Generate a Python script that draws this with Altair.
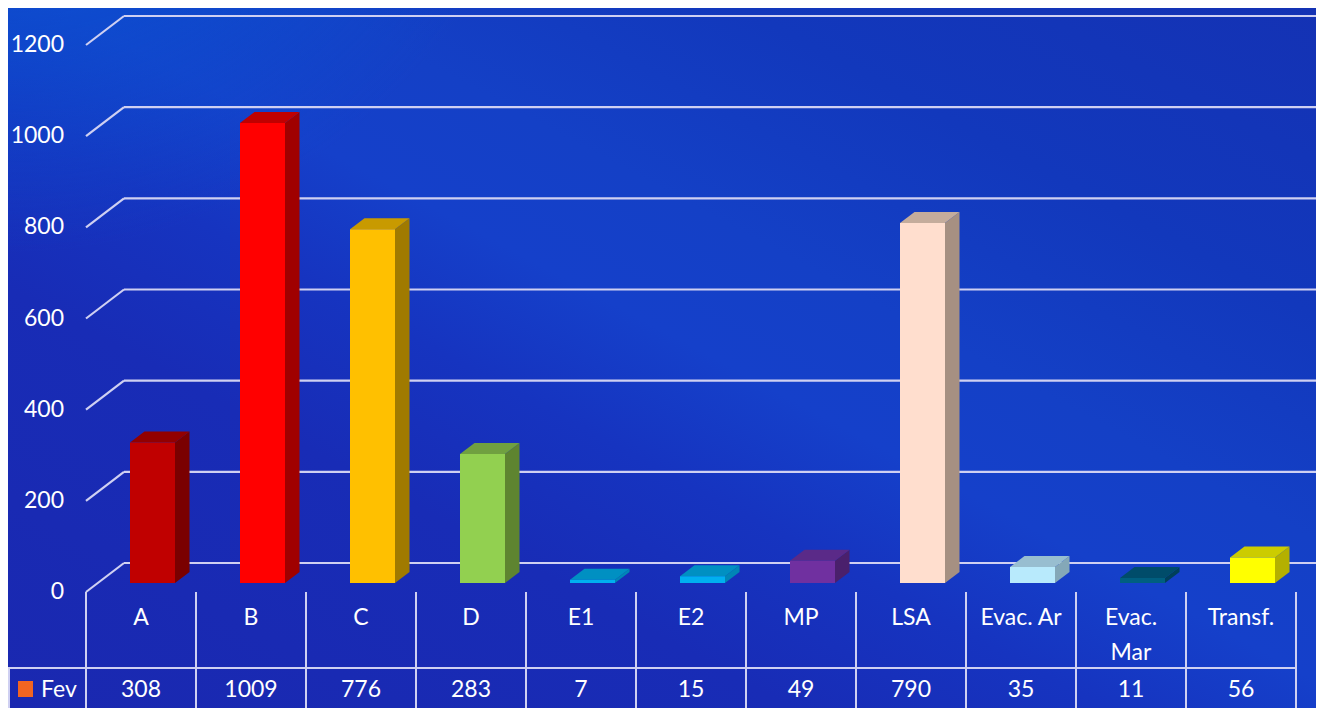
import altair as alt
import pandas as pd

# ---------------- data ----------------
categories = ["A", "B", "C", "D", "E1", "E2", "MP", "LSA", "Evac. Ar", "Evac. Mar", "Transf."]
fev = [308, 1009, 776, 283, 7, 15, 49, 790, 35, 11, 56]
y_ticks = [0, 200, 400, 600, 800, 1000, 1200]
series_name = "Fev"

# ---------------- styles ----------------
front_colors = ["#c00000", "#ff0000", "#ffc000", "#92d050", "#00b0f0", "#00b0f0",
                "#7030a0", "#ffdece", "#b8eafc", "#005f80", "#ffff00"]
side_colors = ["#7a0000", "#a00000", "#a07a00", "#5e8430", "#0086b6", "#0086b6",
               "#4a206c", "#a69082", "#84a8b8", "#00405a", "#b4b000"]
top_colors = ["#920000", "#c00000", "#c89a00", "#70a040", "#0090c2", "#0090c2",
              "#5a2a88", "#c4ac9c", "#98bed0", "#004c6a", "#cccc00"]
series_color = "#f26522"
line_color = "#cfd0f2"
text_color = "#ffffff"
FONT = "Lato"
FS = 23

# ---------------- layout (chart pixels) ----------------
W, H = 1308, 700
PX = 547 / 1200          # pixels per value unit
BASE = 575               # chart-pixel y of value 0 at bar front
X0, COL = 78, 110        # left edge of first column, column width


def ux(px):
    return (px - X0) / COL


def vy(py):
    return (BASE - py) / PX


xs = alt.Scale(domain=[ux(0), ux(W)], nice=False, zero=False)
ys = alt.Scale(domain=[vy(H), vy(0)], nice=False, zero=False)

BAR_L, BAR_R = 44 / COL, 89 / COL
DX, DY = 14.5 / COL, 11 / PX
BACK_DX, BACK_DY, FRONT_DY = (116 - X0) / COL, 20 / PX, -9 / PX

n = len(categories)
bars = pd.DataFrame({
    "cat": categories, "v": fev, "front": front_colors,
    "x": [i + BAR_L for i in range(n)], "x2": [i + BAR_R for i in range(n)],
})

side_rows, top_rows = [], []
for i, (c, v) in enumerate(zip(categories, fev)):
    side_rows.append({"cat": c, "u": i + BAR_R, "lo": 0, "hi": v, "col": side_colors[i]})
    side_rows.append({"cat": c, "u": i + BAR_R + DX, "lo": DY, "hi": v + DY, "col": side_colors[i]})
    top_rows.append({"cat": c, "yy": v, "a": i + BAR_L, "b": i + BAR_R, "col": top_colors[i]})
    top_rows.append({"cat": c, "yy": v + DY, "a": i + BAR_L + DX, "b": i + BAR_R + DX, "col": top_colors[i]})
side_df = pd.DataFrame(side_rows)
top_df = pd.DataFrame(top_rows)

grid_df = pd.DataFrame({
    "t": y_ticks,
    "fy": [t + FRONT_DY for t in y_ticks],
    "by": [t + BACK_DY for t in y_ticks],
    "fx": [0.0] * len(y_ticks),
    "bx": [BACK_DX] * len(y_ticks),
    "ex": [ux(W)] * len(y_ticks),
    "lx": [ux(56)] * len(y_ticks),
    "lab": [str(t) for t in y_ticks],
})

# table
vlines = pd.DataFrame({"u": list(range(n + 1)), "y1": vy(584), "y2": vy(H)})
hline = pd.DataFrame({"x1": [ux(0)], "x2": [n], "y": [vy(660)]})
lborder = pd.DataFrame({"u": [ux(1)], "y1": [vy(660)], "y2": [vy(H)]})

lab_rows = []
for i, c in enumerate(categories):
    lines = ["Evac.", "Mar"] if c == "Evac. Mar" else [c]
    for k, s in enumerate(lines):
        lab_rows.append({"u": i + 0.5, "y": vy(610 + 35 * k), "s": s})
lab_df = pd.DataFrame(lab_rows)
val_df = pd.DataFrame({"u": [i + 0.5 for i in range(n)], "y": vy(682), "s": [str(v) for v in fev]})
leg_df = pd.DataFrame({"x1": [ux(10)], "x2": [ux(25)], "y1": [vy(673)], "y2": [vy(689)],
                       "tx": [ux(33)], "ty": [vy(682)], "s": [series_name]})

# ---------------- layers ----------------
one = pd.DataFrame({"k": [0]})
bg = alt.Chart(one).mark_rect(
    color=alt.Gradient(
        gradient="linear", x1=0, y1=1, x2=1, y2=0,
        stops=[alt.GradientStop(offset=0, color="#1a28b0"),
               alt.GradientStop(offset=0.3, color="#182cb6"),
               alt.GradientStop(offset=0.42, color="#1634c0"),
               alt.GradientStop(offset=0.52, color="#1540ca"),
               alt.GradientStop(offset=0.62, color="#1440c6"),
               alt.GradientStop(offset=0.78, color="#1238bc"),
               alt.GradientStop(offset=1, color="#1432b4")]),
).encode(x=alt.value(0), x2=alt.value(W), y=alt.value(0), y2=alt.value(H))
glow = alt.Chart(one).mark_rect(
    color=alt.Gradient(
        gradient="radial", x1=0, y1=0, r1=0, x2=0, y2=0, r2=0.42,
        stops=[alt.GradientStop(offset=0, color="rgba(8,92,216,0.95)"),
               alt.GradientStop(offset=0.6, color="rgba(10,80,208,0.6)"),
               alt.GradientStop(offset=1, color="rgba(10,80,208,0)")]),
).encode(x=alt.value(0), x2=alt.value(W), y=alt.value(0), y2=alt.value(H))

X = lambda f: alt.X(f, type="quantitative", scale=xs, axis=None)
Y = lambda f: alt.Y(f, type="quantitative", scale=ys, axis=None)

grid_back = alt.Chart(grid_df).mark_rule(color=line_color, strokeWidth=2.2).encode(
    x=X("bx"), x2="ex", y=Y("by"))
grid_diag = alt.Chart(grid_df).mark_rule(color=line_color, strokeWidth=2.2).encode(
    x=X("fx"), x2="bx", y=Y("fy"), y2="by")
ylabels = alt.Chart(grid_df).mark_text(
    align="right", baseline="middle", font=FONT, fontSize=FS, color=text_color).encode(
    x=X("lx"), y=Y("fy"), text="lab:N")

side = alt.Chart(side_df).mark_area(orient="vertical").encode(
    x=X("u"), y=Y("lo"), y2="hi", detail="cat:N", color=alt.Color("col:N", scale=None))
top = alt.Chart(top_df).mark_area(orient="horizontal").encode(
    y=Y("yy"), x=X("a"), x2="b", detail="cat:N", color=alt.Color("col:N", scale=None))
front = alt.Chart(bars).mark_rect().encode(
    x=X("x"), x2="x2", y=alt.Y("v:Q", scale=ys, axis=None), y2=alt.datum(0),
    color=alt.Color("front:N", scale=None))

tv = alt.Chart(vlines).mark_rule(color=line_color, strokeWidth=2).encode(x=X("u"), y=Y("y1"), y2="y2")
th = alt.Chart(hline).mark_rule(color=line_color, strokeWidth=2).encode(x=X("x1"), x2="x2", y=Y("y"))
tl = alt.Chart(lborder).mark_rule(color=line_color, strokeWidth=2).encode(x=X("u"), y=Y("y1"), y2="y2")

cat_text = alt.Chart(lab_df).mark_text(
    align="center", baseline="middle", font=FONT, fontSize=FS, color=text_color).encode(
    x=X("u"), y=Y("y"), text="s:N")
val_text = alt.Chart(val_df).mark_text(
    align="center", baseline="middle", font=FONT, fontSize=FS, color=text_color).encode(
    x=X("u"), y=Y("y"), text="s:N")
leg_sq = alt.Chart(leg_df).mark_rect(color=series_color).encode(
    x=X("x1"), x2="x2", y=Y("y1"), y2="y2")
leg_tx = alt.Chart(leg_df).mark_text(
    align="left", baseline="middle", font=FONT, fontSize=FS, color=text_color).encode(
    x=X("tx"), y=Y("ty"), text="s:N")

chart = alt.layer(
    bg, glow, grid_back, grid_diag, ylabels, side, top, front, tv, th, tl,
    cat_text, val_text, leg_sq, leg_tx
).properties(
    width=W, height=H, padding=0, autosize=alt.AutoSizeParams(type="none"),
    background="#1234bc",
).configure_view(stroke=None)

chart.save("out.html", embed_options={"renderer": "svg", "actions": False})
